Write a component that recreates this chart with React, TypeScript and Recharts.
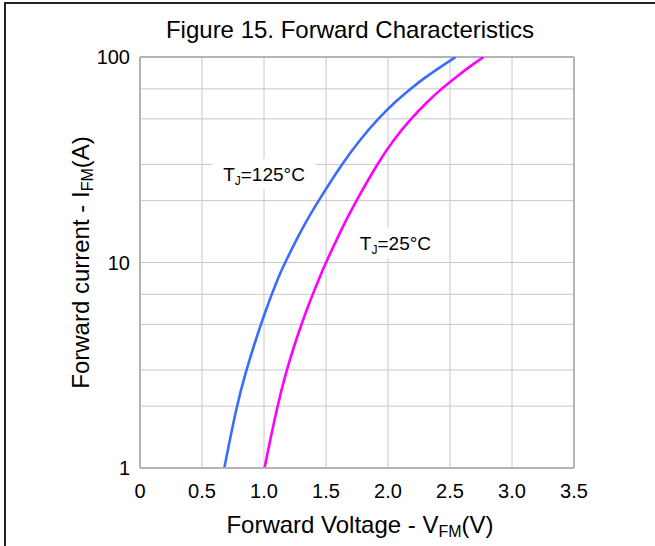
import React from 'react';
import { LineChart, Line, XAxis, YAxis, CartesianGrid, ReferenceLine, ReferenceDot, Label } from 'recharts';

// forward current I_FM (A) and the read-off forward voltage for each curve
const currents = [1, 2, 3, 4, 5, 6, 7, 8, 9, 10, 15, 20, 30, 40, 50, 60, 70, 80, 90, 100];
const vf125 = [0.68, 0.778, 0.858, 0.922, 0.975, 1.022, 1.062, 1.1, 1.136, 1.17, 1.315, 1.44, 1.625, 1.78, 1.92, 2.05, 2.18, 2.305, 2.43, 2.545];
const vf25 = [1.004, 1.106, 1.183, 1.247, 1.302, 1.35, 1.393, 1.432, 1.467, 1.5, 1.635, 1.745, 1.91, 2.05, 2.185, 2.31, 2.43, 2.55, 2.66, 2.77];

const xTicks = [0, 0.5, 1, 1.5, 2, 2.5, 3, 3.5];
const yTicks = [1, 10, 100];
const gridCurrents = [1, 2, 3, 4, 5, 6, 7, 8, 9, 10, 20, 30, 40, 50, 60, 70, 80, 90, 100];

const hot = currents.map((i, k) => ({ v: vf125[k], i }));
const cold = currents.map((i, k) => ({ v: vf25[k], i }));

const FONT = "'Liberation Sans', Arial, sans-serif";
const GRID = '#c8c8c8';
const FRAME = '#b4b4b4';

const fmtX = (v: number) => (v === 0 ? '0' : v.toFixed(1));

const tempLabel = (temp: string, w: number) => (props: any) => {
  const { cx, cy } = props;
  return (
    <g>
      <rect x={cx - w / 2} y={cy - 15} width={w} height={30} fill="#fff" />
      <text x={cx} y={cy + 7} textAnchor="middle" fontFamily={FONT} fontSize={19} fill="#000">
        <tspan>T</tspan>
        <tspan fontSize={12} dy={4}>J</tspan>
        <tspan dy={-4}>={temp}°C</tspan>
      </text>
    </g>
  );
};

const XTitle = (props: any) => {
  const { viewBox } = props;
  return (
    <text x={viewBox.x + viewBox.width / 2 + 3} y={viewBox.y + 65} textAnchor="middle" fontFamily={FONT} fontSize={24} fill="#000">
      <tspan>Forward Voltage - V</tspan>
      <tspan fontSize={16} dy={4}>FM</tspan>
      <tspan dy={-4}>(V)</tspan>
    </text>
  );
};

const YTitle = (props: any) => {
  const { viewBox } = props;
  const x = viewBox.x + 9;
  const y = viewBox.y + viewBox.height / 2;
  return (
    <text x={x} y={y} transform={`rotate(-90 ${x} ${y})`} textAnchor="middle" fontFamily={FONT} fontSize={24} fill="#000">
      <tspan>Forward current - I</tspan>
      <tspan fontSize={16} dy={4}>FM</tspan>
      <tspan dy={-4}>(A)</tspan>
    </text>
  );
};

export default function App() {
  return (
    <div style={{ position: 'absolute', left: 0, top: 0, width: 655, height: 546, overflow: 'hidden', background: '#fff' }}>
      <div style={{ position: 'absolute', left: 4, top: 2, width: 700, height: 600, borderTop: '2px solid #222', borderLeft: '2px solid #222' }} />
      <div style={{ position: 'absolute', left: 0, top: 18, width: 700, textAlign: 'center', fontFamily: FONT, fontSize: 24, lineHeight: '24px', color: '#000' }}>
        Figure 15. Forward Characteristics
      </div>
      <div style={{ position: 'absolute', left: 0, top: 0 }}>
        <LineChart width={655} height={546} margin={{ top: 57, right: 81, bottom: 48, left: 80 }}>
          <CartesianGrid stroke={GRID} horizontalValues={gridCurrents} verticalValues={xTicks} />
          <XAxis
            type="number"
            dataKey="v"
            domain={[0, 3.5]}
            ticks={xTicks}
            tickFormatter={fmtX}
            height={30}
            tickLine={false}
            tickSize={0}
            tickMargin={16}
            axisLine={{ stroke: FRAME, strokeWidth: 2 }}
            tick={{ fill: '#000', fontSize: 20, fontFamily: FONT }}
            allowDataOverflow
          >
            <Label content={XTitle} />
          </XAxis>
          <YAxis
            type="number"
            dataKey="i"
            scale="log"
            domain={[1, 100]}
            ticks={yTicks}
            width={60}
            tickLine={false}
            tickSize={0}
            tickMargin={10}
            axisLine={{ stroke: FRAME, strokeWidth: 2 }}
            tick={{ fill: '#000', fontSize: 20, fontFamily: FONT }}
            allowDataOverflow
          >
            <Label content={YTitle} />
          </YAxis>
          <ReferenceLine y={100} stroke={FRAME} strokeWidth={2} />
          <ReferenceLine x={3.5} stroke={FRAME} strokeWidth={2} />
          <Line data={hot} dataKey="i" type="basis" stroke="#3a6cff" strokeWidth={2.6} dot={false} isAnimationActive={false} />
          <Line data={cold} dataKey="i" type="basis" stroke="#ff00ff" strokeWidth={2.6} dot={false} isAnimationActive={false} />
          <ReferenceDot x={1.0} y={27} r={1} shape={tempLabel('125', 103)} />
          <ReferenceDot x={2.06} y={12.5} r={1} shape={tempLabel('25', 88)} />
        </LineChart>
      </div>
    </div>
  );
}
